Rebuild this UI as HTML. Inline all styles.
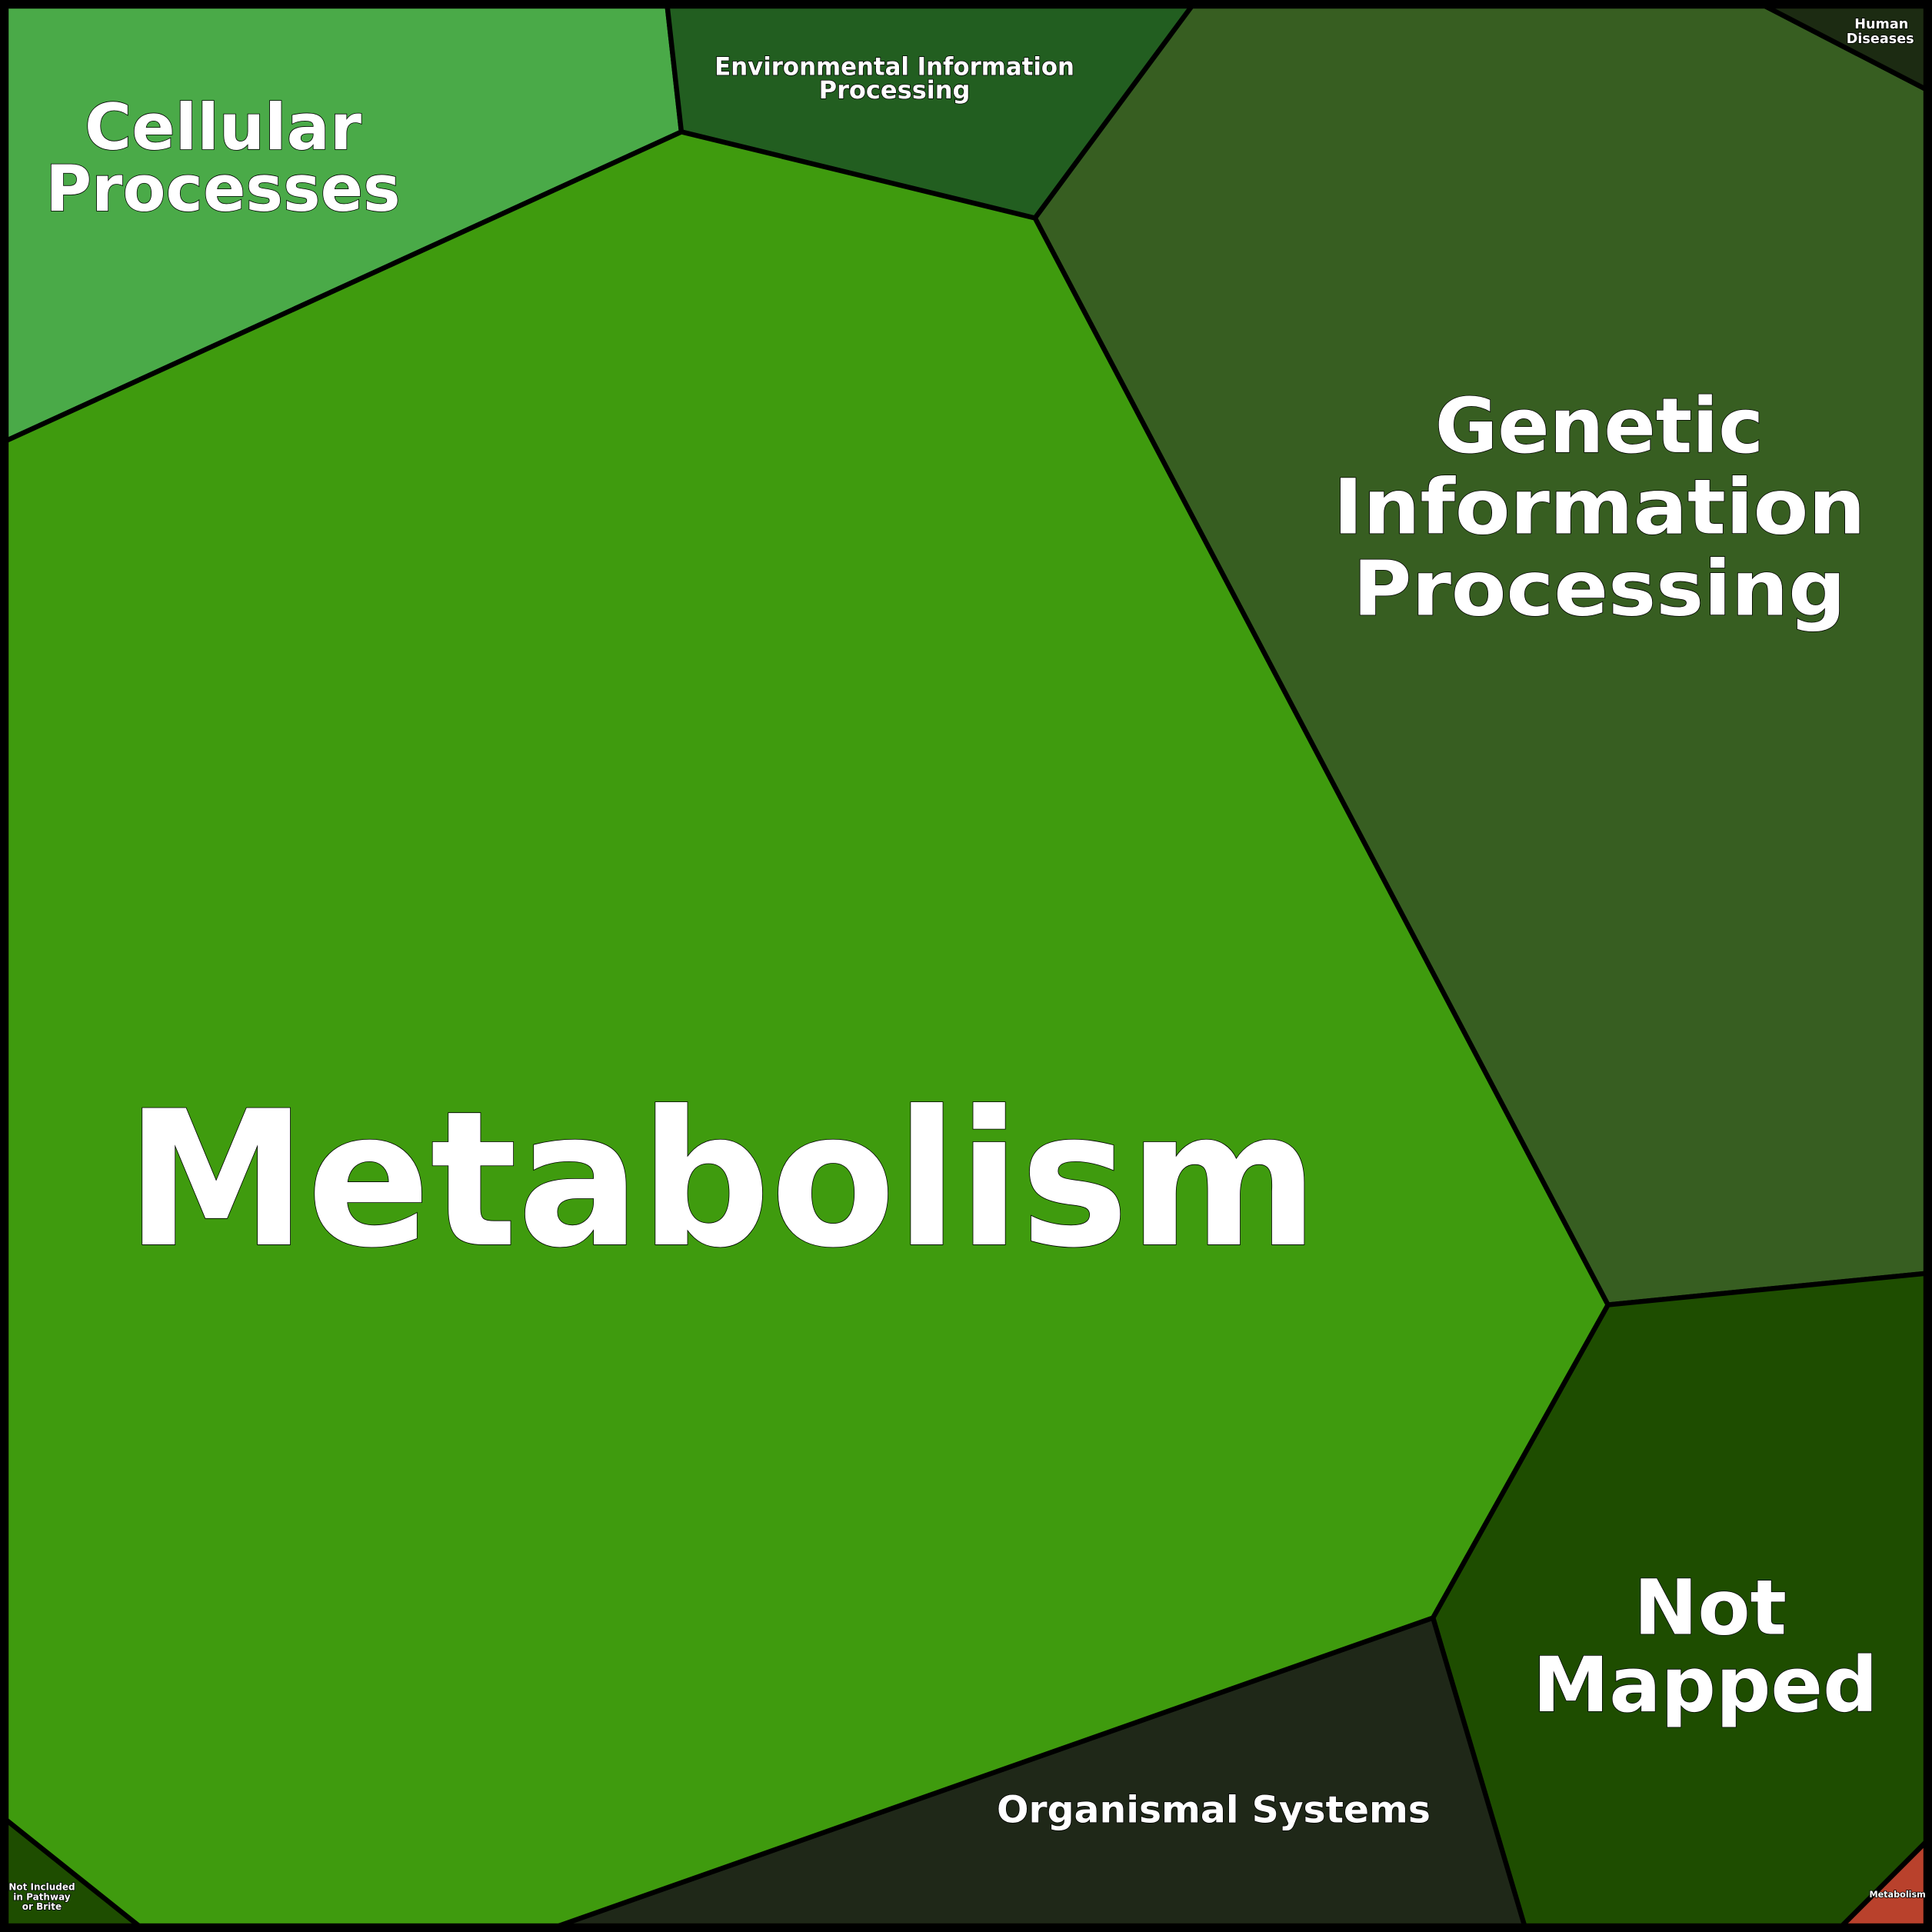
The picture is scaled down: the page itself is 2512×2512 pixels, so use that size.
<!DOCTYPE html>
<html><head><meta charset="utf-8"><style>html,body{margin:0;padding:0;background:#000}svg{display:block}</style></head>
<body>
<svg width="2512" height="2512" viewBox="0 0 1568 1568" xmlns="http://www.w3.org/2000/svg" font-family="'DejaVu Sans','Liberation Sans',sans-serif" font-weight="bold">
<g stroke="#000" stroke-width="4" stroke-linejoin="round">
<polygon points="0,0 541,0 553,107 0,360" fill="#4aaa48"/>
<polygon points="541,0 971,0 840,177 553,107" fill="#225e20"/>
<polygon points="971,0 1423,0 1568,75 1568,1033 1305,1059 840,177" fill="#375e21"/>
<polygon points="1423,0 1568,0 1568,75" fill="#1c2b12"/>
<polygon points="1305,1059 1568,1033 1568,1490 1490,1568 1238,1568 1163,1313" fill="#1e4d00"/>
<polygon points="1568,1490 1568,1568 1490,1568" fill="#b9412c"/>
<polygon points="1163,1313 1240,1572 428,1572" fill="#1f2818"/>
<polygon points="0,1473 124,1572 0,1572" fill="#1e4d00"/>
<polygon points="0,360 553,107 840,177 1305,1059 1163,1313 428,1572 124,1572 0,1473" fill="#3f9b0e"/>
</g>
<rect x="3.5" y="3.5" width="1561" height="1561" fill="none" stroke="#000" stroke-width="7"/>
<g text-anchor="middle" fill="#fff" stroke="#000" stroke-width="1" paint-order="stroke">
<text x="586" y="1010" font-size="152" textLength="968" lengthAdjust="spacingAndGlyphs">Metabolism</text>
<text x="1298" y="367" font-size="62">Genetic</text>
<text x="1298" y="433" font-size="62" textLength="432" lengthAdjust="spacingAndGlyphs">Information</text>
<text x="1298" y="499" font-size="62" textLength="400" lengthAdjust="spacingAndGlyphs">Processing</text>
<text x="181" y="121" font-size="52">Cellular</text>
<text x="181" y="171" font-size="52" textLength="288" lengthAdjust="spacingAndGlyphs">Processes</text>
<text x="1388" y="1326" font-size="62">Not</text>
<text x="1384" y="1389" font-size="62" textLength="280" lengthAdjust="spacingAndGlyphs">Mapped</text>
<text x="985" y="1479" font-size="30" textLength="352" lengthAdjust="spacingAndGlyphs">Organismal Systems</text>
<text x="726" y="61" font-size="20" textLength="292" lengthAdjust="spacingAndGlyphs">Environmental Information</text>
<text x="726" y="80" font-size="20">Processing</text>
<text x="1527" y="23" font-size="11">Human</text>
<text x="1526" y="35" font-size="11">Diseases</text>
<text x="34" y="1534" font-size="7.5">Not Included</text>
<text x="34" y="1542" font-size="7.5">in Pathway</text>
<text x="34" y="1550" font-size="7.5">or Brite</text>
<text x="1540" y="1540" font-size="7">Metabolism</text>
</g>
</svg>
</body></html>
